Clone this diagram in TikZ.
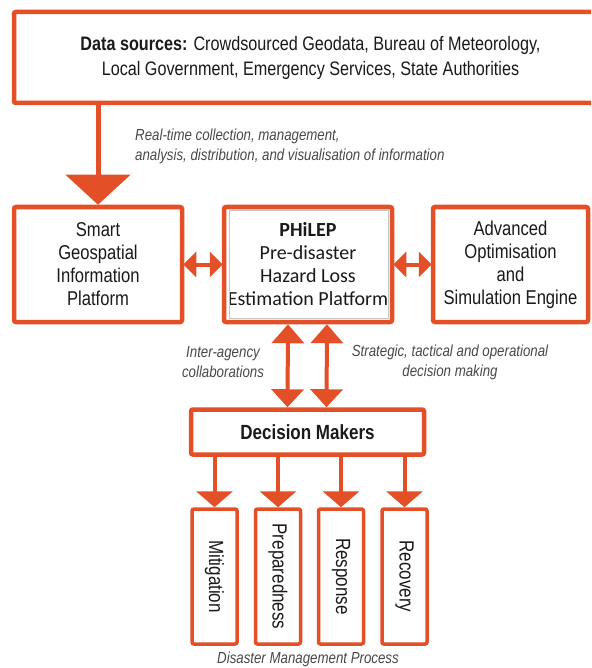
\documentclass[tikz,border=0pt]{standalone}
\usepackage{fontspec}
\setmainfont{Liberation Sans}[FakeStretch=0.83]
\newfontfamily\calib{Carlito}
\usetikzlibrary{arrows.meta,calc}
\definecolor{org}{HTML}{E34F26}
\definecolor{txt}{HTML}{1A1A1A}
\tikzset{
  box/.style={draw=org, line width=4.5pt, rounded corners=2pt, fill=white, align=center, text=txt, inner sep=2pt},
  bigarr/.style={draw=org, line width=5pt, -{Triangle[length=30pt,width=64pt]}},
  harr/.style={draw=org, line width=4pt, {Triangle[length=13pt,width=25pt]}-{Triangle[length=13pt,width=25pt]}, shorten <=-1pt, shorten >=-1pt},
  varr/.style={draw=org, line width=4pt, {Triangle[length=19pt,width=32pt]}-{Triangle[length=18pt,width=32pt]}},
  barr/.style={draw=org, line width=4pt, -{Triangle[length=16pt,width=36pt]}},
  lab/.style={font=\itshape\fontsize{16}{20}\selectfont, text=txt!80, align=center, inner sep=0pt},
  mid/.style={font=\fontsize{20}{23}\selectfont},
  stage/.style={box, minimum width=45pt, minimum height=135pt, line width=3.5pt, font=\fontsize{20.5}{22}\selectfont},
}
\begin{document}
\begin{tikzpicture}[x=1pt,y=-1pt]
\useasboundingbox (0,0) rectangle (591,668);
\clip (0,0) rectangle (591,668);
% top box
\node[box, minimum width=593pt, minimum height=91pt, font=\fontsize{19.5}{25}\selectfont] (src) at (310.5,57.5)
  {\textbf{Data sources:} Crowdsourced Geodata, Bureau of Meteorology,\\Local Government, Emergency Services, State Authorities};
% middle row
\node[box, minimum width=168pt, minimum height=115pt, mid] (sgip) at (98,264.5)
  {Smart\\Geospatial\\Information\\Platform};
\node[box, minimum width=168pt, minimum height=115pt, font=\calib\fontsize{20}{23}\selectfont] (philep) at (308,264.5)
  {\textbf{PHiLEP}\\Pre-disaster\\Hazard Loss\\Estimation Platform};
\node[box, minimum width=155pt, minimum height=115pt, mid] (aose) at (510.5,264.5)
  {Advanced\\Optimisation\\and\\Simulation Engine};
\draw[gray!45, line width=0.7pt] ($(philep.north west)+(8,6)$) rectangle ($(philep.south east)+(-6,-6)$);
% decision makers
\node[box, minimum width=233pt, minimum height=45pt, font=\bfseries\fontsize{20.5}{22}\selectfont] (dm) at (307.5,432) {Decision Makers};
% stages
\node[stage] (mit) at (214.5,576.5) {\rotatebox{-90}{Mitigation}};
\node[stage] (pre) at (278,576.5) {\rotatebox{-90}{Preparedness}};
\node[stage] (res) at (341,576.5) {\rotatebox{-90}{Response}};
\node[stage] (rec) at (404.5,576.5) {\rotatebox{-90}{Recovery}};
% arrows
\draw[bigarr] (src.south -| sgip.north) -- (sgip.north);
\draw[harr] (sgip.east) -- (philep.west);
\draw[harr] (philep.east) -- (aose.west);
\draw[varr] ($(philep.south)+(-20,0)$) -- ($(dm.north)+(-20,0)$);
\draw[varr] ($(philep.south)+(19,0)$) -- ($(dm.north)+(19,0)$);
\foreach \s in {mit,pre,res,rec}{
  \draw[barr] (dm.south -| \s.north) -- (\s.north);
}
% labels
\node[lab, anchor=west, align=left] (l1) at (135,146.5) {Real-time collection, management,\\analysis, distribution, and visualisation of information};
\node[lab] (l2) at (223,362) {Inter-agency\\collaborations};
\node[lab] (l3) at (450,362) {Strategic, tactical and operational\\decision making};
\node[lab] (l4) at (308,659) {Disaster Management Process};
\end{tikzpicture}
\end{document}
